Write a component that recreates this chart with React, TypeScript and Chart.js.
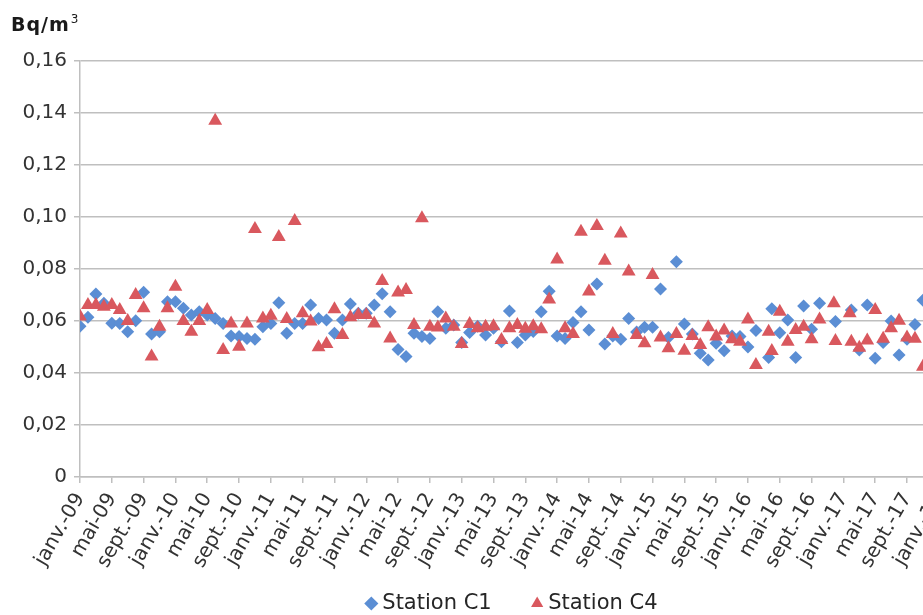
import React, { useEffect, useRef } from "react";
import { Chart, registerables } from "chart.js";

Chart.register(...registerables);

// Month offsets from janv.-09 (0) and values (Bq/m3)
const c1Months = [
  0, 1, 2, 3, 4, 5, 6, 7, 8, 9, 10, 11, 12, 13, 14, 15, 16, 17, 18, 19,
  20, 21, 22, 23, 24, 25, 26, 27, 28, 29, 30, 31, 32, 33, 34, 35, 36, 37, 38, 39,
  40, 41, 42, 43, 44, 45, 46, 47, 48, 49, 50, 51, 52, 53, 54, 55, 56, 57, 58, 59,
  60, 61, 62, 63, 64, 65, 66, 67, 68, 69, 70, 71, 72, 73, 74, 75, 76, 77, 78, 79,
  80, 81, 82, 83, 84, 85, 86.6, 87, 88, 89, 90, 91, 92, 93, 95, 97, 98, 99, 100,
  101, 102, 103, 104, 105, 106,
];
const c1Values = [
  0.058, 0.0614, 0.0704, 0.0668, 0.0591, 0.059, 0.0559, 0.0601, 0.0711, 0.055,
  0.0559, 0.0674, 0.0674, 0.0649, 0.0623, 0.0636, 0.0623, 0.061, 0.059, 0.0542,
  0.054, 0.0533, 0.053, 0.0578, 0.059, 0.067, 0.0553, 0.059, 0.059, 0.0662,
  0.061, 0.0604, 0.0553, 0.0604, 0.0665, 0.063, 0.063, 0.0662, 0.0705, 0.0636,
  0.049, 0.0463, 0.0553, 0.054, 0.0533, 0.0636, 0.0572, 0.0585, 0.0517, 0.0556,
  0.058, 0.0546, 0.0572, 0.052, 0.0638, 0.0517, 0.0546, 0.056, 0.0636, 0.0714,
  0.0542, 0.0533, 0.0594, 0.0636, 0.0565, 0.0742, 0.0512, 0.0542, 0.053, 0.061,
  0.0558, 0.0576, 0.0576, 0.0723, 0.0537, 0.0828, 0.0588, 0.055, 0.0476, 0.045,
  0.0514, 0.0486, 0.0542, 0.054, 0.05, 0.0563, 0.046, 0.0647, 0.0555, 0.0604,
  0.046, 0.0658, 0.0568, 0.0668, 0.0598, 0.0642, 0.0488, 0.0662, 0.0457,
  0.0517, 0.06, 0.0469, 0.053, 0.0587, 0.068,
];

const c4Months = [
  0, 1, 2, 3, 4, 5, 6, 7, 8, 9, 10, 11, 12, 13, 14, 15, 16, 17, 18, 19,
  20, 21, 22, 23, 24, 25, 26, 27, 28, 29, 30, 31, 32, 33, 34, 35, 36, 37, 38, 39,
  40, 41, 42, 43, 44, 45, 46, 47, 48, 49, 50, 51, 52, 53, 54, 55, 56, 57, 58, 59,
  60, 61, 62, 63, 64, 65, 66, 67, 68, 69, 70, 71, 72, 73, 74, 75, 76, 77, 78, 79,
  80, 81, 82, 83, 84, 85, 86.6, 87, 88, 89, 90, 91, 92, 93, 94.8, 95, 96.8, 97,
  98, 99, 100, 101, 102, 103, 104, 105, 106,
];
const c4Values = [
  0.0617, 0.0662, 0.0662, 0.0655, 0.0662, 0.0642, 0.06, 0.07, 0.0649, 0.0463,
  0.0578, 0.0649, 0.0732, 0.06, 0.0559, 0.06, 0.0642, 0.137, 0.0488, 0.059,
  0.0501, 0.059, 0.0954, 0.061, 0.062, 0.0923, 0.0608, 0.0985, 0.063, 0.0598,
  0.0499, 0.0512, 0.0645, 0.0546, 0.0614, 0.0623, 0.0623, 0.059, 0.0754, 0.0533,
  0.071, 0.0719, 0.0585, 0.0995, 0.0578, 0.0575, 0.061, 0.0578, 0.0512, 0.0588,
  0.0572, 0.0578, 0.058, 0.0527, 0.0572, 0.0585, 0.057, 0.058, 0.0568, 0.0683,
  0.0837, 0.0572, 0.055, 0.0943, 0.0713, 0.0965, 0.0832, 0.055, 0.0937, 0.079,
  0.0546, 0.0514, 0.0777, 0.0537, 0.0495, 0.055, 0.0486, 0.0542, 0.0508, 0.0576,
  0.054, 0.0563, 0.053, 0.052, 0.0606, 0.0431, 0.0559, 0.0485, 0.0636, 0.052,
  0.0565, 0.0578, 0.053, 0.0606, 0.0668, 0.0523, 0.063, 0.052, 0.0497, 0.0525,
  0.0642, 0.0532, 0.0572, 0.0601, 0.0537, 0.0532, 0.0424,
];

// x tick labels every 4 months, starting janv.-09
const tickLabels = [
  "janv.-09", "mai-09", "sept.-09", "janv.-10", "mai-10", "sept.-10",
  "janv.-11", "mai-11", "sept.-11", "janv.-12", "mai-12", "sept.-12",
  "janv.-13", "mai-13", "sept.-13", "janv.-14", "mai-14", "sept.-14",
  "janv.-15", "mai-15", "sept.-15", "janv.-16", "mai-16", "sept.-16",
  "janv.-17", "mai-17", "sept.-17", "janv.-18", "mai-18", "sept.-18",
];

const seriesNames = ["Station C1", "Station C4"];
const unitMain = "Bq/m";
const unitSup = "3";

const BLUE = "#5B8ED4";
const RED = "#D9585E";
const FONT = "'DejaVu Sans', sans-serif";
const X_MAX = 118;
const PLOT_RIGHT = 80 + 7.952 * X_MAX;
const PAD_RIGHT = 32;
const W = Math.ceil(PLOT_RIGHT + PAD_RIGHT);
const H = 624;

const unitPlugin = {
  id: "unitTitle",
  beforeDraw(chart: any) {
    // let rotated tick labels extend past their scale box (no clipping)
    Object.values(chart.scales).forEach((s: any) => {
      s._computeLabelArea = () => undefined;
    });
  },
  afterDraw(chart: any) {
    const ctx = chart.ctx;
    ctx.save();
    ctx.fillStyle = "#1a1a1a";
    ctx.textBaseline = "alphabetic";
    ctx.textAlign = "left";
    ctx.font = `bold 19px ${FONT}`;
    try { ctx.letterSpacing = "1px"; } catch (e) {}
    ctx.fillText(unitMain, 11, 31);
    const w = ctx.measureText(unitMain).width;
    ctx.font = `12px ${FONT}`;
    try { ctx.letterSpacing = "0px"; } catch (e) {}
    ctx.fillText(unitSup, 11 + w + 1, 23);
    ctx.restore();
  },
};

export default function App() {
  const ref = useRef<HTMLCanvasElement | null>(null);

  useEffect(() => {
    if (!ref.current) return;
    const chart = new Chart(ref.current, {
      type: "scatter",
      data: {
        datasets: [
          {
            label: seriesNames[0],
            data: c1Months.map((m, i) => ({ x: m, y: c1Values[i] })),
            pointStyle: "rectRot",
            pointRadius: 6.5,
            backgroundColor: BLUE,
            borderColor: BLUE,
            borderWidth: 0,
            order: 2,
          },
          {
            label: seriesNames[1],
            data: c4Months.map((m, i) => ({ x: m, y: c4Values[i] })),
            pointStyle: "triangle",
            pointRadius: 8,
            backgroundColor: RED,
            borderColor: RED,
            borderWidth: 0,
            order: 1,
          },
        ],
      },
      options: {
        animation: false,
        responsive: false,
        devicePixelRatio: 1,
        events: [],
        layout: { padding: { left: 10, top: 61, right: W - PLOT_RIGHT, bottom: 0 } },
        plugins: {
          tooltip: { enabled: false },
          title: { display: false },
          legend: {
            position: "bottom",
            align: "center",
            labels: {
              usePointStyle: true,
              boxWidth: 1,
              boxHeight: 10,
              padding: 45,
              color: "#262626",
              font: { size: 21, family: FONT },
              sort: (a: any, b: any) => a.datasetIndex - b.datasetIndex,
            },
          },
        },
        scales: {
          x: {
            type: "linear",
            min: 0,
            max: X_MAX,
            afterFit: (scale: any) => {
              scale.height = 71;
            },
            ticks: {
              stepSize: 4,
              autoSkip: false,
              minRotation: 60,
              maxRotation: 60,
              padding: 6,
              color: "#333333",
              font: { size: 20, family: FONT },
              callback: (v: any) => tickLabels[Math.round(Number(v) / 4)] ?? "",
            },
            grid: {
              drawOnChartArea: false,
              drawTicks: true,
              tickLength: 6,
              color: "#bfbfbf",
              lineWidth: 1.5,
            },
            border: { display: true, color: "#bfbfbf", width: 1.5 },
          },
          y: {
            type: "linear",
            min: 0,
            max: 0.16,
            afterFit: (scale: any) => {
              scale.width = 70;
            },
            ticks: {
              stepSize: 0.02,
              padding: 7,
              color: "#333333",
              font: { size: 20, family: FONT },
              callback: (v: any) => {
                const n = Number(v);
                if (Math.abs(n) < 1e-9) return "0";
                return n.toFixed(2).replace(".", ",");
              },
            },
            grid: {
              drawTicks: true,
              tickLength: 6,
              color: "#bfbfbf",
              lineWidth: 1.5,
            },
            border: { display: true, color: "#bfbfbf", width: 1.5 },
          },
        },
      },
      plugins: [unitPlugin],
    });
    return () => chart.destroy();
  }, []);

  return (
    <div
      style={{
        position: "fixed",
        left: 0,
        top: 0,
        width: 923,
        height: 615,
        overflow: "hidden",
        background: "#ffffff",
      }}
    >
      <canvas ref={ref} width={W} height={H} style={{ display: "block", width: W, height: H }} />
    </div>
  );
}
